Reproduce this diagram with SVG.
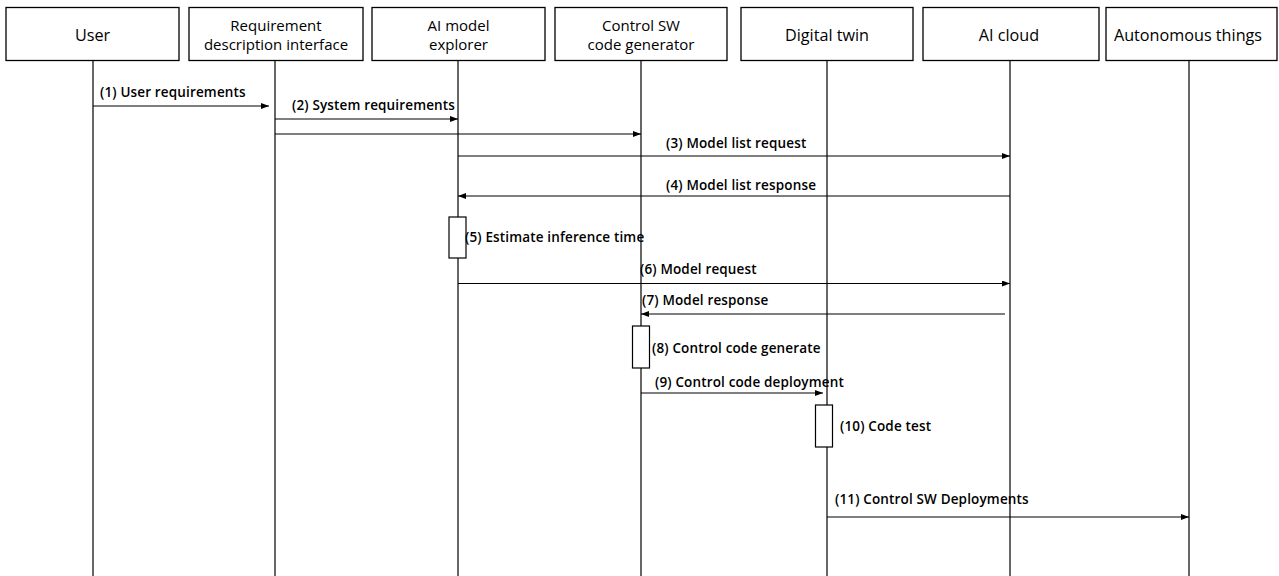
<svg xmlns="http://www.w3.org/2000/svg" width="1279" height="576" viewBox="0 0 1279 576">
  <style>
    .box { fill: #ffffff; stroke: #000000; stroke-width: 1.3; }
    .life { stroke: #000000; stroke-width: 1.2; fill: none; }
    .act { fill: #ffffff; stroke: #000000; stroke-width: 1.2; }
    .msg { stroke: #000000; stroke-width: 1.2; fill: none; marker-end: url(#arrow); }
    .title { font-family: "Open Sans", "Noto Sans", sans-serif; font-size: 15px; fill: #000000; text-anchor: middle; }
    .title.one { font-size: 16.2px; }
    .label { font-family: "Open Sans", "Noto Sans", sans-serif; font-size: 13.5px; fill: #000000; font-weight: 600; letter-spacing: 0.15px; }
  </style>
  <defs>
    <marker id="arrow" viewBox="0 0 8 6" refX="8" refY="3" markerWidth="8" markerHeight="6" markerUnits="userSpaceOnUse" orient="auto">
      <path d="M0,0 L8,3 L0,6 Z" fill="#000000"/>
    </marker>
  </defs>
  <rect width="1279" height="576" fill="#ffffff"/>

  <!-- lifelines -->
  <g id="lifelines">
    <line class="life" x1="93" y1="61" x2="93" y2="576"/>
    <line class="life" x1="275" y1="61" x2="275" y2="576"/>
    <line class="life" x1="458" y1="61" x2="458" y2="576"/>
    <line class="life" x1="641" y1="61" x2="641" y2="576"/>
    <line class="life" x1="827" y1="61" x2="827" y2="576"/>
    <line class="life" x1="1010" y1="61" x2="1010" y2="576"/>
    <line class="life" x1="1189" y1="61" x2="1189" y2="576"/>
  </g>

  <!-- participants -->
  <g id="user">
    <rect class="box" x="6" y="7.5" width="173" height="53"/>
    <text class="title one" x="92.5" y="40.5">User</text>
  </g>
  <g id="requirement-interface">
    <rect class="box" x="189" y="7.5" width="174" height="53"/>
    <text class="title" x="276" y="30.5">Requirement</text>
    <text class="title" x="276" y="50">description interface</text>
  </g>
  <g id="ai-model-explorer">
    <rect class="box" x="372" y="7.5" width="173" height="53"/>
    <text class="title" x="458.5" y="30.5">AI model</text>
    <text class="title" x="458.5" y="50">explorer</text>
  </g>
  <g id="code-generator">
    <rect class="box" x="555" y="7.5" width="172" height="53"/>
    <text class="title" x="641" y="30.5">Control SW</text>
    <text class="title" x="641" y="50">code generator</text>
  </g>
  <g id="digital-twin">
    <rect class="box" x="741" y="7.5" width="172" height="53"/>
    <text class="title one" x="827" y="40.5">Digital twin</text>
  </g>
  <g id="ai-cloud">
    <rect class="box" x="923" y="7.5" width="176" height="53"/>
    <text class="title one" x="1009" y="40.5">AI cloud</text>
  </g>
  <g id="autonomous-things">
    <rect class="box" x="1106" y="7.5" width="171" height="53"/>
    <text class="title one" x="1188" y="40.5">Autonomous things</text>
  </g>

  <!-- activation bars -->
  <g id="activations">
    <rect class="act" x="449" y="217" width="17" height="41"/>
    <rect class="act" x="632.5" y="326" width="17" height="42"/>
    <rect class="act" x="815.5" y="405" width="17" height="42"/>
  </g>

  <!-- messages -->
  <g id="connectors">
    <line class="msg" x1="93" y1="106" x2="269" y2="106"/>
    <line class="msg" x1="275" y1="119" x2="458" y2="119"/>
    <line class="msg" x1="275" y1="134" x2="641" y2="134"/>
    <line class="msg" x1="458" y1="156" x2="1010" y2="156"/>
    <line class="msg" x1="1010" y1="196" x2="458" y2="196"/>
    <line class="msg" x1="458" y1="283.5" x2="1010" y2="283.5"/>
    <line class="msg" x1="1005" y1="314" x2="641" y2="314"/>
    <line class="msg" x1="641" y1="393" x2="823" y2="393"/>
    <line class="msg" x1="827" y1="517" x2="1189" y2="517"/>
  </g>

  <!-- message labels -->
  <g id="labels">
    <text class="label" x="100" y="97">(1) User requirements</text>
    <text class="label" x="292" y="110">(2) System requirements</text>
    <text class="label" x="666" y="148">(3) Model list request</text>
    <text class="label" x="666" y="190">(4) Model list response</text>
    <text class="label" x="465" y="242">(5) Estimate inference time</text>
    <text class="label" x="640" y="274">(6) Model request</text>
    <text class="label" x="642" y="305">(7) Model response</text>
    <text class="label" x="652" y="353">(8) Control code generate</text>
    <text class="label" x="655" y="387">(9) Control code deployment</text>
    <text class="label" x="840" y="431">(10) Code test</text>
    <text class="label" x="835" y="504">(11) Control SW Deployments</text>
  </g>
</svg>
